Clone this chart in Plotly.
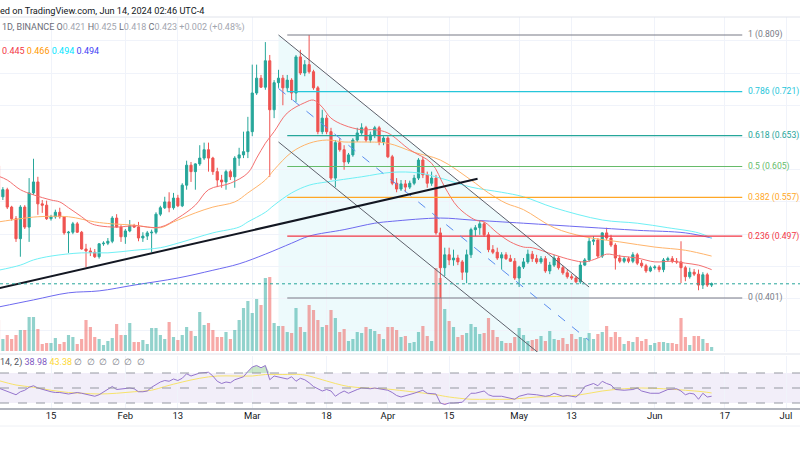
import pandas as pd
import plotly.graph_objects as go

# daily candles, 2024-01-03 .. 2024-06-14
first_day = pd.Timestamp("2024-01-03")

opens = [0.606, 0.558, 0.569, 0.542, 0.524, 0.493, 0.542, 0.511, 0.564, 0.581,
         0.547, 0.545, 0.524, 0.527, 0.534, 0.527, 0.502, 0.503, 0.516, 0.503,
         0.477, 0.474, 0.472, 0.465, 0.485, 0.486, 0.489, 0.525, 0.511, 0.496,
         0.505, 0.513, 0.511, 0.494, 0.497, 0.502, 0.503, 0.531, 0.541, 0.550,
         0.541, 0.556, 0.544, 0.576, 0.607, 0.597, 0.609, 0.618, 0.631, 0.618,
         0.597, 0.584, 0.581, 0.597, 0.589, 0.618, 0.623, 0.628, 0.659, 0.719,
         0.742, 0.728, 0.769, 0.693, 0.735, 0.742, 0.727, 0.739, 0.719, 0.775,
         0.750, 0.763, 0.752, 0.727, 0.659, 0.680, 0.659, 0.587, 0.642, 0.631,
         0.612, 0.623, 0.646, 0.657, 0.665, 0.646, 0.654, 0.665, 0.643, 0.649,
         0.620, 0.579, 0.570, 0.578, 0.573, 0.579, 0.587, 0.615, 0.592, 0.579,
         0.587, 0.502, 0.448, 0.468, 0.460, 0.463, 0.457, 0.441, 0.468, 0.507,
         0.510, 0.516, 0.499, 0.476, 0.472, 0.463, 0.468, 0.462, 0.458, 0.432,
         0.449, 0.457, 0.469, 0.462, 0.457, 0.462, 0.443, 0.452, 0.463, 0.448,
         0.440, 0.434, 0.432, 0.426, 0.452, 0.460, 0.489, 0.491, 0.466, 0.502,
         0.494, 0.483, 0.463, 0.458, 0.462, 0.458, 0.468, 0.455, 0.451, 0.443,
         0.448, 0.449, 0.445, 0.460, 0.462, 0.458, 0.457, 0.448, 0.434, 0.441,
         0.438, 0.421, 0.437, 0.421]
highs = [0.610, 0.573, 0.572, 0.544, 0.528, 0.545, 0.545, 0.587, 0.617, 0.589,
         0.553, 0.552, 0.530, 0.538, 0.541, 0.528, 0.505, 0.519, 0.519, 0.505,
         0.485, 0.479, 0.477, 0.486, 0.489, 0.494, 0.528, 0.531, 0.514, 0.508,
         0.522, 0.516, 0.519, 0.503, 0.505, 0.507, 0.534, 0.544, 0.558, 0.565,
         0.564, 0.561, 0.579, 0.614, 0.612, 0.610, 0.638, 0.642, 0.642, 0.620,
         0.603, 0.592, 0.600, 0.600, 0.621, 0.634, 0.659, 0.682, 0.763, 0.763,
         0.747, 0.798, 0.778, 0.739, 0.755, 0.747, 0.747, 0.742, 0.778, 0.786,
         0.770, 0.809, 0.755, 0.730, 0.693, 0.685, 0.665, 0.646, 0.649, 0.638,
         0.626, 0.649, 0.665, 0.672, 0.668, 0.659, 0.668, 0.668, 0.652, 0.652,
         0.623, 0.587, 0.584, 0.584, 0.583, 0.592, 0.618, 0.620, 0.597, 0.597,
         0.592, 0.510, 0.479, 0.479, 0.476, 0.468, 0.460, 0.476, 0.510, 0.514,
         0.522, 0.519, 0.503, 0.483, 0.479, 0.472, 0.472, 0.468, 0.463, 0.451,
         0.463, 0.476, 0.474, 0.468, 0.466, 0.466, 0.457, 0.468, 0.466, 0.451,
         0.445, 0.438, 0.435, 0.457, 0.463, 0.494, 0.497, 0.494, 0.503, 0.510,
         0.499, 0.486, 0.468, 0.465, 0.465, 0.472, 0.471, 0.460, 0.454, 0.451,
         0.452, 0.452, 0.463, 0.465, 0.466, 0.463, 0.489, 0.451, 0.448, 0.446,
         0.445, 0.441, 0.440, 0.425]
lows = [0.553, 0.553, 0.539, 0.521, 0.488, 0.465, 0.508, 0.488, 0.561, 0.530,
        0.533, 0.522, 0.521, 0.524, 0.524, 0.499, 0.471, 0.500, 0.502, 0.476,
        0.449, 0.466, 0.463, 0.462, 0.482, 0.483, 0.486, 0.510, 0.488, 0.485,
        0.503, 0.510, 0.489, 0.488, 0.491, 0.472, 0.500, 0.528, 0.539, 0.534,
        0.538, 0.542, 0.542, 0.569, 0.581, 0.569, 0.606, 0.615, 0.597, 0.592,
        0.573, 0.572, 0.569, 0.584, 0.572, 0.606, 0.618, 0.618, 0.652, 0.716,
        0.727, 0.724, 0.589, 0.680, 0.727, 0.700, 0.721, 0.708, 0.705, 0.747,
        0.745, 0.749, 0.724, 0.655, 0.655, 0.655, 0.584, 0.573, 0.628, 0.600,
        0.609, 0.620, 0.643, 0.654, 0.643, 0.642, 0.649, 0.638, 0.638, 0.618,
        0.576, 0.565, 0.567, 0.565, 0.570, 0.576, 0.584, 0.587, 0.572, 0.575,
        0.499, 0.401, 0.435, 0.452, 0.451, 0.452, 0.429, 0.424, 0.463, 0.497,
        0.499, 0.496, 0.472, 0.469, 0.460, 0.445, 0.460, 0.457, 0.429, 0.418,
        0.446, 0.454, 0.457, 0.454, 0.454, 0.440, 0.438, 0.449, 0.445, 0.437,
        0.431, 0.429, 0.424, 0.423, 0.451, 0.457, 0.483, 0.463, 0.463, 0.491,
        0.480, 0.445, 0.455, 0.455, 0.455, 0.455, 0.452, 0.448, 0.440, 0.441,
        0.445, 0.441, 0.441, 0.457, 0.455, 0.454, 0.424, 0.427, 0.431, 0.435,
        0.413, 0.415, 0.418, 0.418]
closes = [0.558, 0.569, 0.542, 0.524, 0.493, 0.542, 0.511, 0.564, 0.581, 0.547,
          0.545, 0.524, 0.527, 0.534, 0.527, 0.502, 0.503, 0.516, 0.503, 0.477,
          0.474, 0.472, 0.465, 0.485, 0.486, 0.489, 0.525, 0.511, 0.496, 0.505,
          0.513, 0.511, 0.494, 0.497, 0.502, 0.503, 0.531, 0.541, 0.550, 0.541,
          0.556, 0.544, 0.576, 0.607, 0.597, 0.609, 0.618, 0.631, 0.618, 0.597,
          0.584, 0.581, 0.597, 0.589, 0.618, 0.623, 0.628, 0.659, 0.719, 0.742,
          0.728, 0.769, 0.693, 0.735, 0.742, 0.727, 0.739, 0.719, 0.775, 0.750,
          0.763, 0.752, 0.727, 0.659, 0.680, 0.659, 0.587, 0.642, 0.631, 0.612,
          0.623, 0.646, 0.657, 0.665, 0.646, 0.654, 0.665, 0.643, 0.649, 0.620,
          0.579, 0.570, 0.578, 0.573, 0.579, 0.587, 0.615, 0.592, 0.579, 0.587,
          0.502, 0.448, 0.468, 0.460, 0.463, 0.457, 0.441, 0.468, 0.507, 0.510,
          0.516, 0.499, 0.476, 0.472, 0.463, 0.468, 0.462, 0.458, 0.432, 0.449,
          0.457, 0.469, 0.462, 0.457, 0.462, 0.443, 0.452, 0.463, 0.448, 0.440,
          0.434, 0.432, 0.426, 0.452, 0.460, 0.489, 0.491, 0.466, 0.502, 0.494,
          0.483, 0.463, 0.458, 0.462, 0.458, 0.468, 0.455, 0.451, 0.443, 0.448,
          0.449, 0.445, 0.460, 0.462, 0.458, 0.457, 0.448, 0.434, 0.441, 0.438,
          0.421, 0.437, 0.421, 0.423]
volumes = [31, 12, 16, 12, 16, 21, 21, 34, 34, 22, 7, 8, 8, 13, 7, 9, 16, 14, 7, 12,
           31, 24, 14, 12, 6, 10, 13, 27, 16, 16, 28, 9, 9, 11, 7, 23, 23, 16, 12, 29,
           14, 11, 16, 24, 20, 15, 39, 26, 28, 21, 14, 14, 19, 12, 21, 31, 43, 50, 38, 52,
           46, 73, 74, 28, 25, 25, 19, 18, 43, 24, 19, 46, 41, 31, 24, 26, 41, 33, 19, 22,
           10, 12, 19, 18, 24, 22, 20, 17, 12, 24, 24, 21, 14, 15, 8, 9, 19, 25, 15, 10,
           83, 73, 42, 30, 24, 14, 16, 18, 27, 24, 17, 18, 33, 21, 14, 10, 8, 8, 14, 23,
           16, 10, 11, 12, 15, 10, 20, 12, 11, 13, 7, 17, 12, 14, 13, 18, 12, 17, 19, 25,
           14, 19, 14, 7, 10, 9, 14, 10, 12, 6, 8, 9, 9, 8, 8, 7, 33, 14, 6, 15,
           15, 12, 8, 4]

# moving averages, read at day offsets from first_day
ema20_days = [0, 2, 5, 8, 12, 14, 16, 19, 21, 23, 27, 31, 37, 41, 45, 48, 53, 57, 59, 61,
              63, 66, 70, 72, 74, 76, 79, 83, 86, 89, 94, 99, 102, 105, 109, 111, 114, 117,
              120, 122, 127, 131, 134, 137, 139, 142, 146, 150, 154, 157, 160, 163]
ema20 = [0.590, 0.584, 0.569, 0.561, 0.553, 0.550, 0.541, 0.527, 0.517, 0.513, 0.511, 0.513,
         0.511, 0.525, 0.545, 0.569, 0.579, 0.595, 0.618, 0.641, 0.659, 0.688, 0.704, 0.708,
         0.697, 0.680, 0.669, 0.662, 0.662, 0.657, 0.631, 0.610, 0.573, 0.542, 0.522, 0.519,
         0.502, 0.488, 0.480, 0.479, 0.468, 0.460, 0.457, 0.463, 0.469, 0.466, 0.463, 0.457,
         0.458, 0.455, 0.452, 0.445]
ema50_days = [0, 5, 9, 16, 22, 26, 31, 37, 40, 45, 49, 54, 57, 61, 63, 67, 71, 75, 79, 83,
              89, 95, 101, 108, 112, 116, 120, 127, 134, 142, 150, 157, 163]
ema50 = [0.519, 0.524, 0.527, 0.527, 0.519, 0.516, 0.514, 0.510, 0.519, 0.533, 0.542, 0.550,
         0.564, 0.584, 0.600, 0.627, 0.641, 0.646, 0.643, 0.643, 0.641, 0.627, 0.615, 0.584,
         0.564, 0.548, 0.538, 0.510, 0.496, 0.488, 0.480, 0.475, 0.466]
ema100_days = [0, 5, 8, 12, 19, 25, 31, 37, 41, 49, 55, 57, 61, 63, 67, 71, 75, 83, 90, 96,
               101, 108, 115, 120, 127, 138, 146, 153, 160, 163]
ema100 = [0.444, 0.452, 0.460, 0.466, 0.471, 0.471, 0.475, 0.479, 0.486, 0.502, 0.511, 0.519,
          0.534, 0.545, 0.564, 0.576, 0.581, 0.589, 0.596, 0.595, 0.587, 0.573, 0.565, 0.558,
          0.541, 0.522, 0.517, 0.510, 0.502, 0.494]
ema200_days = [0, 8, 16, 23, 31, 41, 49, 55, 61, 67, 71, 79, 86, 90, 101, 108, 120, 134, 146,
               157, 163]
ema200 = [0.387, 0.398, 0.409, 0.412, 0.421, 0.432, 0.444, 0.454, 0.469, 0.486, 0.497, 0.507,
          0.517, 0.520, 0.525, 0.522, 0.517, 0.511, 0.506, 0.502, 0.494]

# RSI (14) and its moving average
rsi_days = [0, 1, 3, 4, 5, 6, 7, 8, 9, 10, 11, 12, 13, 14, 16, 17, 18, 19, 21, 22, 23, 24, 25,
            26, 27, 29, 30, 31, 32, 33, 34, 35, 37, 38, 39, 40, 41, 42, 43, 44, 45, 46, 48, 49,
            50, 51, 52, 53, 54, 56, 57, 58, 59, 60, 61, 62, 63, 64, 66, 67, 68, 69, 70, 71, 72,
            74, 75, 76, 77, 78, 79, 80, 81, 82, 83, 85, 86, 87, 88, 89, 90, 91, 92, 94, 95, 97,
            98, 100, 101, 102, 103, 104, 106, 107, 108, 109, 111, 112, 113, 115, 116, 118, 119,
            121, 123, 125, 126, 127, 129, 130, 132, 133, 134, 136, 137, 138, 139, 140, 141, 143,
            145, 146, 147, 149, 151, 152, 153, 155, 156, 157, 158, 159, 160, 161, 162, 163]
rsi = [50, 48, 43, 41, 45, 47, 51, 53, 50, 48, 46, 45, 44, 44, 42, 43, 44, 43, 40, 39, 41, 45, 48,
       52, 48, 49, 50, 49, 45, 45, 46, 51, 58, 60, 59, 62, 60, 63, 69, 66, 68, 70, 71, 66,
       59, 56, 58, 57, 61, 65, 72, 78, 80, 77, 80, 61, 66, 65, 62, 65, 59, 63, 61, 57, 52,
       46, 48, 46, 39, 43, 46, 43, 46, 48, 50, 49, 50, 49, 48, 47, 44, 40, 38, 41, 43, 47,
       43, 42, 30, 28, 30, 30, 31, 37, 43, 43, 46, 41, 39, 39, 38, 35, 39,
       42, 41, 39, 40, 43, 39, 40, 38, 43, 52, 56, 53, 59, 56, 54, 48, 47,
       48, 50, 46, 43, 43, 46, 48, 49, 46, 41, 43, 42, 35, 43, 38, 38.98]
rsi_ma_days = [0, 4, 8, 12, 16, 19, 23, 27, 31, 35, 38, 42, 46, 50, 54, 58, 61, 65, 69, 71, 74,
               77, 80, 84, 88, 93, 100, 103, 108, 112, 117, 123, 129, 133, 138, 143, 147, 152,
               157, 161, 163]
rsi_ma = [60, 54, 51, 47, 44, 43, 42, 43, 45, 47, 52, 58, 63, 66, 66, 66, 68, 68, 68, 66, 61,
          56, 52, 50, 49, 46, 41, 38, 35, 35, 35, 38, 39, 41, 46, 49, 50, 49, 47, 45, 43.38]

# fibonacci retracement drawn on the chart
fib_ratios = [1, 0.786, 0.618, 0.5, 0.382, 0.236, 0]
fib_prices = [0.809, 0.721, 0.653, 0.605, 0.557, 0.497, 0.401]
fib_colors = ["#787b86", "#26c6da", "#26a69a", "#66bb6a", "#ffa726", "#f23645", "#787b86"]
fib_span = ["2024-03-09", "2024-06-21"]

# parallel channel and trend line (drawings)
chan_span = ["2024-03-07", "2024-05-17"]
chan_top = [0.809, 0.418]
chan_mid = [0.726, 0.335]
chan_bot = [0.643, 0.252]
trend_x = ["2024-01-03", "2024-04-21 12:00"]
trend_y = [0.416, 0.586]
last_price = 0.423

tick_dates = ["2024-01-15", "2024-02-01", "2024-02-13", "2024-03-01", "2024-03-18",
              "2024-04-01", "2024-04-15", "2024-05-01", "2024-05-13", "2024-06-01",
              "2024-06-17", "2024-07-01"]
tick_text = ["15", "Feb", "13", "Mar", "18", "Apr", "15", "May", "13", "Jun", "17", "Jul"]

UP = "#26a69a"
DOWN = "#ef5350"
GRID = "#f0f3fa"
FONT = "Roboto"

dates = pd.date_range(first_day, periods=len(closes), freq="D")


def at(days):
    return [first_day + pd.Timedelta(days=d) for d in days]


def py(pix):
    # pixel row -> paper y
    return 1 - pix / 450


vol_colors = ["rgba(38,166,154,0.5)" if c >= o else "rgba(239,83,80,0.5)"
              for o, c in zip(opens, closes)]

fig = go.Figure()

fig.add_trace(go.Bar(x=dates, y=volumes, marker_color=vol_colors, marker_line_width=0,
                     width=0.72 * 86400000, xaxis="x", yaxis="y3", hoverinfo="skip"))

for d, v, col in [(ema200_days, ema200, "#6e6af0"), (ema100_days, ema100, "#6ff0f5"),
                  (ema50_days, ema50, "#ffb46b"), (ema20_days, ema20, "#f47070")]:
    fig.add_trace(go.Scatter(x=at(d), y=v, mode="lines", line=dict(color=col, width=1, shape="spline"),
                             xaxis="x", yaxis="y", hoverinfo="skip"))

fig.add_trace(go.Candlestick(x=dates, open=opens, high=highs, low=lows, close=closes,
                             increasing=dict(line=dict(color=UP, width=1), fillcolor=UP),
                             decreasing=dict(line=dict(color=DOWN, width=1), fillcolor=DOWN),
                             whiskerwidth=0, xaxis="x", yaxis="y", hoverinfo="skip"))

# RSI pane
rx = at(rsi_days)
fig.add_trace(go.Scatter(x=rx, y=[70] * len(rsi), mode="lines", line=dict(width=0),
                         xaxis="x2", yaxis="y2", hoverinfo="skip"))
fig.add_trace(go.Scatter(x=rx, y=[max(v, 70) for v in rsi], mode="lines", line=dict(width=0),
                         fill="tonexty", fillcolor="rgba(76,175,80,0.3)",
                         xaxis="x2", yaxis="y2", hoverinfo="skip"))
fig.add_trace(go.Scatter(x=rx, y=[30] * len(rsi), mode="lines", line=dict(width=0),
                         xaxis="x2", yaxis="y2", hoverinfo="skip"))
fig.add_trace(go.Scatter(x=rx, y=[min(v, 30) for v in rsi], mode="lines", line=dict(width=0),
                         fill="tonexty", fillcolor="rgba(242,54,69,0.25)",
                         xaxis="x2", yaxis="y2", hoverinfo="skip"))
fig.add_trace(go.Scatter(x=at(rsi_ma_days), y=rsi_ma, mode="lines",
                         line=dict(color="#f7e36b", width=1, shape="spline"),
                         xaxis="x2", yaxis="y2", hoverinfo="skip"))
fig.add_trace(go.Scatter(x=rx, y=rsi, mode="lines", line=dict(color="#9575cd", width=1),
                         xaxis="x2", yaxis="y2", hoverinfo="skip"))

shapes = []
# channel background
shapes.append(dict(type="path", xref="x", yref="y", layer="below", line=dict(width=0),
                   fillcolor="rgba(0,188,212,0.07)",
                   path=f"M {chan_span[0]},{chan_top[0]} L {chan_span[1]},{chan_top[1]} "
                        f"L {chan_span[1]},0.317 L {chan_span[0]},0.317 Z"))
# fib levels
for p, col in zip(fib_prices, fib_colors):
    shapes.append(dict(type="line", xref="x", yref="y", x0=fib_span[0], x1=fib_span[1],
                       y0=p, y1=p, line=dict(color=col, width=1.2)))
# channel lines
for edge in [chan_top, chan_bot]:
    shapes.append(dict(type="line", xref="x", yref="y", x0=chan_span[0], x1=chan_span[1],
                       y0=edge[0], y1=edge[1], line=dict(color="#5d606b", width=1)))
shapes.append(dict(type="line", xref="x", yref="y", x0=chan_span[0], x1=chan_span[1],
                   y0=chan_mid[0], y1=chan_mid[1], line=dict(color="#5b8def", width=1, dash="dash")))
shapes.append(dict(type="line", xref="x", yref="y", x0=trend_x[0], x1=trend_x[1],
                   y0=trend_y[0], y1=trend_y[1], line=dict(color="#131722", width=2)))
shapes.append(dict(type="line", xref="paper", yref="y", x0=0, x1=1, y0=last_price, y1=last_price,
                   line=dict(color=UP, width=1, dash="dot")))
# RSI band
shapes.append(dict(type="rect", xref="paper", yref="y2", x0=0, x1=1, y0=30, y1=70, layer="below",
                   line=dict(width=0), fillcolor="rgba(126,87,194,0.1)"))
for lvl in [70, 50, 30]:
    shapes.append(dict(type="line", xref="paper", yref="y2", x0=0, x1=1, y0=lvl, y1=lvl,
                       line=dict(color="#9598a1", width=1, dash="dash")))
# pane separators
for pix, col, w in [(17, "#e0e3eb", 1), (354, "#e0e3eb", 1), (409, "#b2b5be", 2), (426, "#eef0f5", 1)]:
    shapes.append(dict(type="line", xref="paper", yref="paper", x0=0, x1=1, y0=py(pix), y1=py(pix),
                       line=dict(color=col, width=w)))

annotations = []
for r, p, col in zip(fib_ratios, fib_prices, fib_colors):
    annotations.append(dict(xref="paper", yref="y", x=746 / 800, y=p, xanchor="left", yanchor="middle",
                            text=f"{r} ({p:.3f})", showarrow=False, font=dict(color=col, size=8.6, family=FONT)))

annotations.append(dict(xref="paper", yref="paper", x=-0.002, y=py(10), xanchor="left", yanchor="middle",
                        showarrow=False, font=dict(color="#131722", size=9.2, family=FONT),
                        text="ed on TradingView.com, Jun 14, 2024 02:46 UTC-4"))
lab = "#6a6d78"
val = "#a3a6af"
ohlc = (f"<span style='color:{lab}'>1D, BINANCE</span> "
        f"<span style='color:{lab}'>O</span><span style='color:{val}'>{opens[-1]:.3f}</span> "
        f"<span style='color:{lab}'>H</span><span style='color:{val}'>{highs[-1]:.3f}</span> "
        f"<span style='color:{lab}'>L</span><span style='color:{val}'>{lows[-1]:.3f}</span> "
        f"<span style='color:{lab}'>C</span><span style='color:{val}'>{closes[-1]:.3f}</span> "
        f"<span style='color:{val}'>+0.002 (+0.48%)</span>")
annotations.append(dict(xref="paper", yref="paper", x=0, y=py(28), xanchor="left", yanchor="middle",
                        showarrow=False, font=dict(size=9, family=FONT), text=ohlc))
ma_text = " ".join(f"<span style='color:{c}'>{v[-1]:.3f}</span>" for v, c in
                   [(ema20, "#f23645"), (ema50, "#ff9800"), (ema100, "#00e5ff"), (ema200, "#3f3ff5")])
annotations.append(dict(xref="paper", yref="paper", x=0, y=py(51), xanchor="left", yanchor="middle",
                        showarrow=False, font=dict(size=9, family=FONT), text=ma_text))
rsi_text = (f"<span style='color:#50535e'>14, 2)</span> <span style='color:#7e57c2'>{rsi[-1]:.2f}</span> "
            f"<span style='color:#fdd835'>{rsi_ma[-1]:.2f}</span> "
            + "  ".join(["<span style='color:#787b86'>∅</span>"] * 6))
annotations.append(dict(xref="paper", yref="paper", x=-0.002, y=py(362), xanchor="left", yanchor="middle",
                        showarrow=False, font=dict(size=9, family=FONT), text=rsi_text))

x_range = ["2024-01-03 08:14", "2024-07-04 04:48"]

fig.update_layout(
    width=800, height=450, margin=dict(l=0, r=0, t=0, b=0),
    paper_bgcolor="white", plot_bgcolor="white", showlegend=False,
    shapes=shapes, annotations=annotations,
    xaxis=dict(domain=[0, 1], anchor="y", type="date", range=x_range, tickvals=tick_dates,
               showticklabels=False, showgrid=True, gridcolor=GRID, zeroline=False, ticks="",
               rangeslider=dict(visible=False)),
    yaxis=dict(domain=[py(352), py(17)], range=[0.3172, 0.8369], tick0=0, dtick=0.05,
               showticklabels=False, showgrid=True, gridcolor=GRID, zeroline=False),
    yaxis3=dict(overlaying="y", anchor="x", range=[-1, 334], visible=False),
    xaxis2=dict(domain=[0, 1], anchor="y2", type="date", range=x_range, matches="x",
                tickvals=tick_dates, ticktext=tick_text, showgrid=True, gridcolor=GRID,
                zeroline=False, ticks="", tickfont=dict(size=9.5, color="#131722", family=FONT)),
    yaxis2=dict(domain=[py(408), py(356)], range=[23.33, 92.67], showticklabels=False,
                showgrid=False, zeroline=False),
)

# page body has a default 8px margin; drop it so the figure sits at the window corner
fig.write_html("out.html", config={"displayModeBar": False},
               post_script="document.body.style.margin='0';")
